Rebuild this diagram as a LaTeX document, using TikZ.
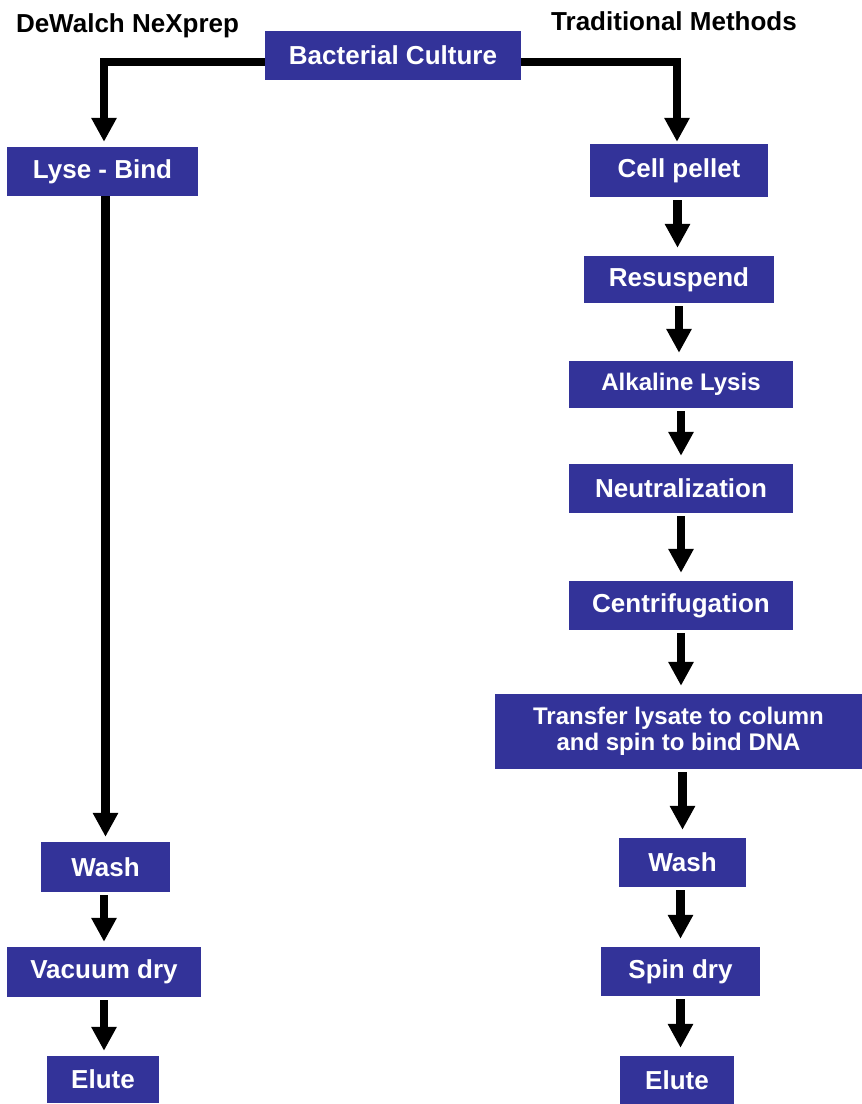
\documentclass[tikz,border=0pt]{standalone}
\usepackage{fontspec}
\setmainfont{Liberation Sans}
\usetikzlibrary{arrows.meta, positioning}
\definecolor{stepBlue}{HTML}{333399}

\tikzset{
    stepbox/.style={fill=stepBlue, text=white, inner sep=0pt,
        font=\bfseries\fontsize{26}{30}\selectfont, minimum height=49pt},
    smalltext/.style={font=\bfseries\fontsize{24}{26}\selectfont},
    heading/.style={font=\bfseries\fontsize{26}{30}\selectfont, anchor=base},
    flow/.style={line width=8.5pt, -{Triangle[length=24pt,width=24pt]}},
    stepflow/.style={flow, shorten <=3pt, shorten >=8pt}
}

\begin{document}
\begin{tikzpicture}[x=1pt, y=-1pt]
    \useasboundingbox (0,0) rectangle (862,1104);

    % headings
    \node[heading] (nexhead) at (127.5,32) {DeWalch NeXprep};
    \node[heading] (tradhead) at (674,30) {Traditional Methods};

    \node[stepbox, minimum width=256pt] (culture) at (393,55.5) {Bacterial Culture};

    % DeWalch NeXprep
    \node[stepbox, minimum width=191pt] (lysebind) at (102.5,171.5) {Lyse - Bind};
    \node[stepbox, minimum width=129pt, minimum height=50pt] (washL) at (105.5,867) {Wash};
    \node[stepbox, minimum width=194pt, minimum height=50pt] (vacdry) at (104,972) {Vacuum dry};
    \node[stepbox, minimum width=112pt, minimum height=47pt] (eluteL) at (103,1079.5) {Elute};

    % traditional methods
    \node[stepbox, minimum width=178pt, minimum height=53pt] (pellet) at (679,170.5) {Cell pellet};
    \node[stepbox, minimum width=190pt, minimum height=47pt] (resusp) at (679,279.5) {Resuspend};
    \node[stepbox, smalltext, minimum width=224pt, minimum height=47pt] (alklysis) at (681,384.5) {Alkaline Lysis};
    \node[stepbox, minimum width=224pt] (neutral) at (681,488.5) {Neutralization};
    \node[stepbox, minimum width=224pt] (centrif) at (681,605.5) {Centrifugation};
    \node[stepbox, smalltext, align=center, minimum width=367pt, minimum height=75pt] (transfer) at (678.5,731.5) {Transfer lysate to column\\and spin to bind DNA};
    \node[stepbox, minimum width=127pt] (washR) at (682.5,862.5) {Wash};
    \node[stepbox, minimum width=159pt] (spindry) at (680.5,971.5) {Spin dry};
    \node[stepbox, minimum width=114pt, minimum height=48pt] (eluteR) at (677,1080) {Elute};

    % split
    \draw[flow, line width=7.5pt, shorten >=5pt] ([yshift=-6.5pt]culture.west) -| ([xshift=1.5pt]lysebind.north);
    \draw[flow, line width=7.5pt, shorten >=2pt] ([yshift=-6.5pt]culture.east) -| ([xshift=-2pt]pellet.north);

    % left column
    \draw[flow, shorten >=5pt] ([xshift=3pt]lysebind.south) -- ([xshift=3pt]lysebind.south |- washL.north);
    \draw[stepflow, shorten >=5pt] (vacdry.north |- washL.south) -- (vacdry.north);
    \draw[stepflow, shorten >=5pt] (vacdry.south) -- (vacdry.south |- eluteL.north);

    % right column
    \draw[stepflow] ([xshift=-1.5pt]pellet.south) -- ([xshift=-1.5pt]pellet.south |- resusp.north);
    \draw[stepflow] (resusp.south) -- (resusp.south |- alklysis.north);
    \draw[stepflow] (alklysis.south) -- (alklysis.south |- neutral.north);
    \draw[stepflow] (neutral.south) -- (neutral.south |- centrif.north);
    \draw[stepflow] (centrif.south) -- (centrif.south |- transfer.north);
    \draw[stepflow] (washR.north |- transfer.south) -- (washR.north);
    \draw[stepflow] (spindry.north |- washR.south) -- (spindry.north);
    \draw[stepflow] (spindry.south) -- (spindry.south |- eluteR.north);
\end{tikzpicture}
\end{document}
